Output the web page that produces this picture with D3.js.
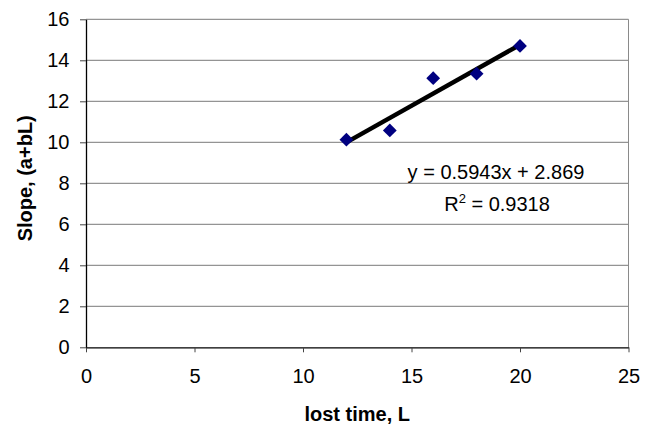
<!DOCTYPE html>
<html>
<head>
<meta charset="utf-8">
<script src="https://cdnjs.cloudflare.com/ajax/libs/d3/7.8.5/d3.min.js"></script>
<style>
	body { margin: 0; background: #fff; }
	svg { display: block; font-family: "Liberation Sans", Arial, sans-serif; }
</style>
</head>
<body>
<div id="chart"></div>
<script>
// values
const lostTime = [12, 14, 16, 18, 20];
const slopeVals = [10.13, 10.58, 13.13, 13.35, 14.70];
const xTicks = [0, 5, 10, 15, 20, 25];
const yTicks = [0, 2, 4, 6, 8, 10, 12, 14, 16];
const eqText = "y = 0.5943x + 2.869";
const r2Text = ["R", "2", " = 0.9318"];
const xTitle = "lost time, L";
const yTitle = "Slope, (a+bL)";

let width = 645;
let height = 429;
let margin = {left: 86, right: 16.5, top: 19.3, bottom: 81.7};

const svg = d3.select('#chart')
	.append("svg")
	.attr("width", width)
	.attr("height", height);

let x = d3.scaleLinear()
	.domain([0, 25])
	.range([margin.left, width - margin.right]);
let y = d3.scaleLinear()
	.domain([0, 16])
	.range([height - margin.bottom, margin.top]);

// gridlines
svg.append("g")
	.selectAll("line")
	.data(yTicks.filter(d => d > 0))
	.join("line")
	.attr("x1", x(0))
	.attr("x2", x(25))
	.attr("y1", d => y(d))
	.attr("y2", d => y(d))
	.attr("stroke", "#7a7a7a")
	.attr("stroke-width", 1);

// right border of the plot area
svg.append("line")
	.attr("x1", x(25)).attr("x2", x(25))
	.attr("y1", y(16)).attr("y2", y(0))
	.attr("stroke", "#8a8a8a");

// axes
let xAxis = svg.append("g")
	.attr("transform", `translate(0,${y(0)})`)
	.call(d3.axisBottom(x).tickValues(xTicks).tickSize(5).tickPadding(17).tickSizeOuter(0));
let yAxis = svg.append("g")
	.attr("transform", `translate(${x(0)},0)`)
	.call(d3.axisLeft(y).tickValues(yTicks).tickSize(6).tickPadding(10.5).tickSizeOuter(0));

[xAxis, yAxis].forEach(a => {
	a.select(".domain").attr("stroke", "#000").attr("stroke-width", 1.3);
	a.selectAll(".tick line").attr("stroke", "#444");
	a.selectAll("text")
		.attr("fill", "#000")
		.style("font-size", "20px")
		.style("font-family", '"Liberation Sans", Arial, sans-serif');
});

// least squares trend line
let mx = d3.mean(lostTime);
let my = d3.mean(slopeVals);
let b = d3.sum(lostTime, (d, i) => (d - mx) * (slopeVals[i] - my)) / d3.sum(lostTime, d => (d - mx) * (d - mx));
let a = my - b * mx;
let xr = d3.extent(lostTime);

svg.append("line")
	.attr("x1", x(xr[0]))
	.attr("y1", y(a + b * xr[0]))
	.attr("x2", x(xr[1]))
	.attr("y2", y(a + b * xr[1]))
	.attr("stroke", "#000")
	.attr("stroke-width", 4.5);

// diamond markers
let diamond = d3.symbol(d3.symbolSquare, 95);
svg.append("g")
	.selectAll("path")
	.data(lostTime)
	.join("path")
	.attr("d", diamond)
	.attr("transform", (d, i) => `translate(${x(d)},${y(slopeVals[i])}) rotate(45)`)
	.attr("fill", "#000080");

// equation labels
svg.append("text")
	.attr("x", 496)
	.attr("y", 179)
	.attr("text-anchor", "middle")
	.style("font-size", "20px")
	.text(eqText);

let r2 = svg.append("text")
	.attr("x", 497)
	.attr("y", 211)
	.attr("text-anchor", "middle")
	.style("font-size", "20px");
r2.append("tspan").text(r2Text[0]);
r2.append("tspan").attr("dy", -8).style("font-size", "13px").text(r2Text[1]);
r2.append("tspan").attr("dy", 8).text(r2Text[2]);

// axis titles
svg.append("text")
	.attr("x", (x(0) + x(25)) / 2)
	.attr("y", 421)
	.attr("text-anchor", "middle")
	.style("font-size", "20px")
	.style("font-weight", "bold")
	.text(xTitle);

svg.append("text")
	.attr("transform", `translate(32,${(y(0) + y(16)) / 2 - 5}) rotate(-90)`)
	.attr("text-anchor", "middle")
	.style("font-size", "20px")
	.style("font-weight", "bold")
	.text(yTitle);
</script>
</body>
</html>
